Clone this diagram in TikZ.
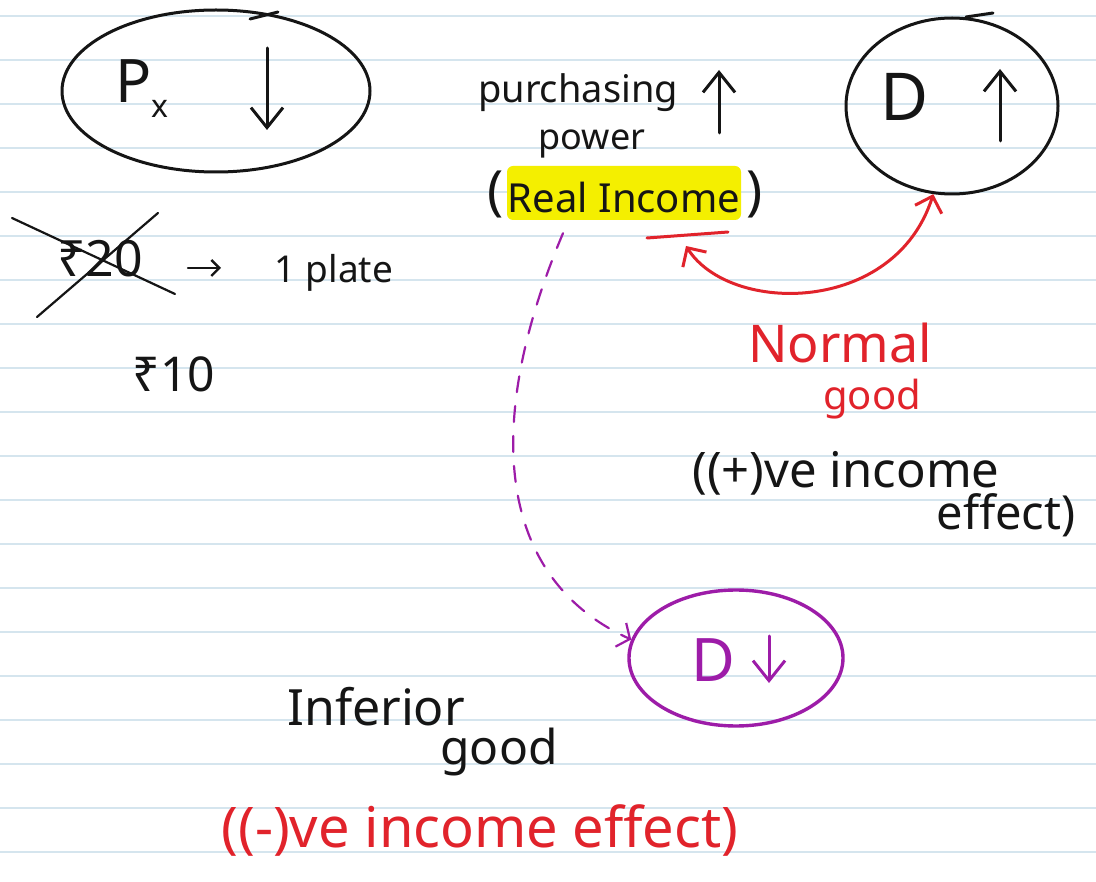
\documentclass[tikz,border=0pt]{standalone}
\usepackage{fontspec}
\setmainfont{Noto Sans}
\usetikzlibrary{shapes.geometric,arrows.meta}
\definecolor{ink}{HTML}{151515}
\definecolor{redc}{HTML}{E1232B}
\definecolor{purp}{HTML}{9D1CA8}
\definecolor{hl}{HTML}{F4EF00}
\definecolor{rulec}{HTML}{D5E5EE}
\newcommand{\hsz}[1]{\fontsize{#1}{#1}\selectfont}
\begin{document}
\begin{tikzpicture}[x=1pt,y=-1pt,
  txt/.style={inner sep=0pt, anchor=base},
  pen/.style={line width=3pt, line cap=round, line join=round},
  barb/.style={-{Straight Barb[length=20pt,width=32pt]}},
  smallbarb/.style={-{Straight Barb[length=8pt,width=16pt]}},
]
\fill[white] (0,0) rectangle (1096,882);
\useasboundingbox (0,0) rectangle (1096,882);
\foreach \yy in {16,60,...,852} \draw[rulec, line width=1.3pt] (0,\yy) -- (1096,\yy);

% P_x ellipse
\node[draw=ink, pen, ellipse, minimum width=308pt, minimum height=162pt, inner sep=0pt] (px) at (216,91) {};
\coordinate (pxo1) at (250,19); \coordinate (pxo2) at (278,12);
\draw[ink,pen] (pxo1) -- (pxo2);
\node[txt, font=\hsz{60}, text=ink] (P) at (134,103) {P};
\node[txt, font=\hsz{32}, text=ink] (Psub) at (160,118) {x};
\coordinate (pxa) at (267,48); \coordinate (pxb) at (267,130);
\draw[ink,pen,barb] (pxa) -- (pxb);

% Rs 20 -> 1 plate
\node[txt, font=\hsz{50}, text=ink] (r20) at (100,277) {₹20};
\coordinate (xa1) at (12,218); \coordinate (xa2) at (175,294);
\coordinate (xb1) at (37,317); \coordinate (xb2) at (158,213);
\draw[ink,pen,line width=2.2pt] (xa1) -- (xa2);
\draw[ink,pen,line width=2.2pt] (xb1) -- (xb2);
\coordinate (ar1) at (188,268); \coordinate (ar2) at (221,268);
\draw[ink,pen,line width=2.4pt,smallbarb] (ar1) -- (ar2);
\node[txt, font=\hsz{37}, text=ink] (plate) at (334,283) {1 plate};
\node[txt, font=\hsz{48}, text=ink] (r10) at (174,392) {₹10};

% purchasing power (Real Income)
\node[txt, font=\hsz{38}, text=ink] (purch) at (578,103) {purchasing};
\coordinate (ppa) at (719,133); \coordinate (ppb) at (719,70);
\draw[ink,pen,barb] (ppa) -- (ppb);
\node[txt, font=\hsz{36}, text=ink] (power) at (592,150) {power};
\node[fill=hl, rounded corners=6pt, minimum width=234pt, minimum height=54pt, inner sep=0pt,
      text height=40pt, text depth=0pt, font=\hsz{40}, text=ink] (ri) at (624,193) {Real Income};
\node[txt, font=\hsz{54}, text=ink] (lp) at (496,210) {(};
\node[txt, font=\hsz{54}, text=ink] (rp) at (755,210) {)};
\coordinate (u1) at (647,238); \coordinate (u2) at (728,232);
\draw[redc,pen] (u1) -- (u2);

% D up circle
\node[draw=ink, pen, ellipse, minimum width=212pt, minimum height=176pt, inner sep=0pt] (dup) at (952,106) {};
\coordinate (dpo1) at (966,17); \coordinate (dpo2) at (993,13);
\draw[ink,pen] (dpo1) -- (dpo2);
\node[txt, font=\hsz{66}, text=ink] (D1) at (905,121) {D};
\coordinate (da) at (1000,141); \coordinate (db) at (1000,69);
\draw[ink,pen,barb] (da) -- (db);

% red double arrow
\coordinate (ul) at (686,246);
\draw[redc, pen, {Straight Barb[length=14pt,width=28pt]}-{Straight Barb[length=14pt,width=28pt]}]
  (ul) .. controls (730,315) and (895,315) .. (dup.258);

% Normal good
\node[txt, font=\hsz{52}, text=redc] (normal) at (840,363) {Normal};
\node[txt, font=\hsz{40}, text=redc] (good1) at (872,410) {good};
\node[txt, font=\hsz{49}, text=ink] (pos1) at (846,488) {((+)ve income};
\node[txt, font=\hsz{47}, text=ink] (pos2) at (1006,530) {effect)};

% purple D down
\node[draw=purp, pen, line width=3.4pt, ellipse, minimum width=214pt, minimum height=136pt, inner sep=0pt] (dd) at (736,658) {};
\node[txt, font=\hsz{60}, text=purp] (D2) at (713,681) {D};
\coordinate (dda) at (769,636); \coordinate (ddb) at (769,683);
\draw[purp,pen,barb] (dda) -- (ddb);
\draw[purp, line width=2.2pt, line cap=round, dash pattern=on 16pt off 14pt, -{Straight Barb[length=10pt,width=26pt]}]
  ([xshift=-61pt,yshift=-13pt]ri.south) .. controls (480,430) and (500,580) .. (dd.170);

% Inferior good
\node[txt, font=\hsz{50}, text=ink] (inf) at (376,725) {Inferior};
\node[txt, font=\hsz{48}, text=ink] (good2) at (499,764) {good};
\node[txt, font=\hsz{56}, text=redc] (neg) at (480,847) {((-)ve income effect)};
\end{tikzpicture}
\end{document}
